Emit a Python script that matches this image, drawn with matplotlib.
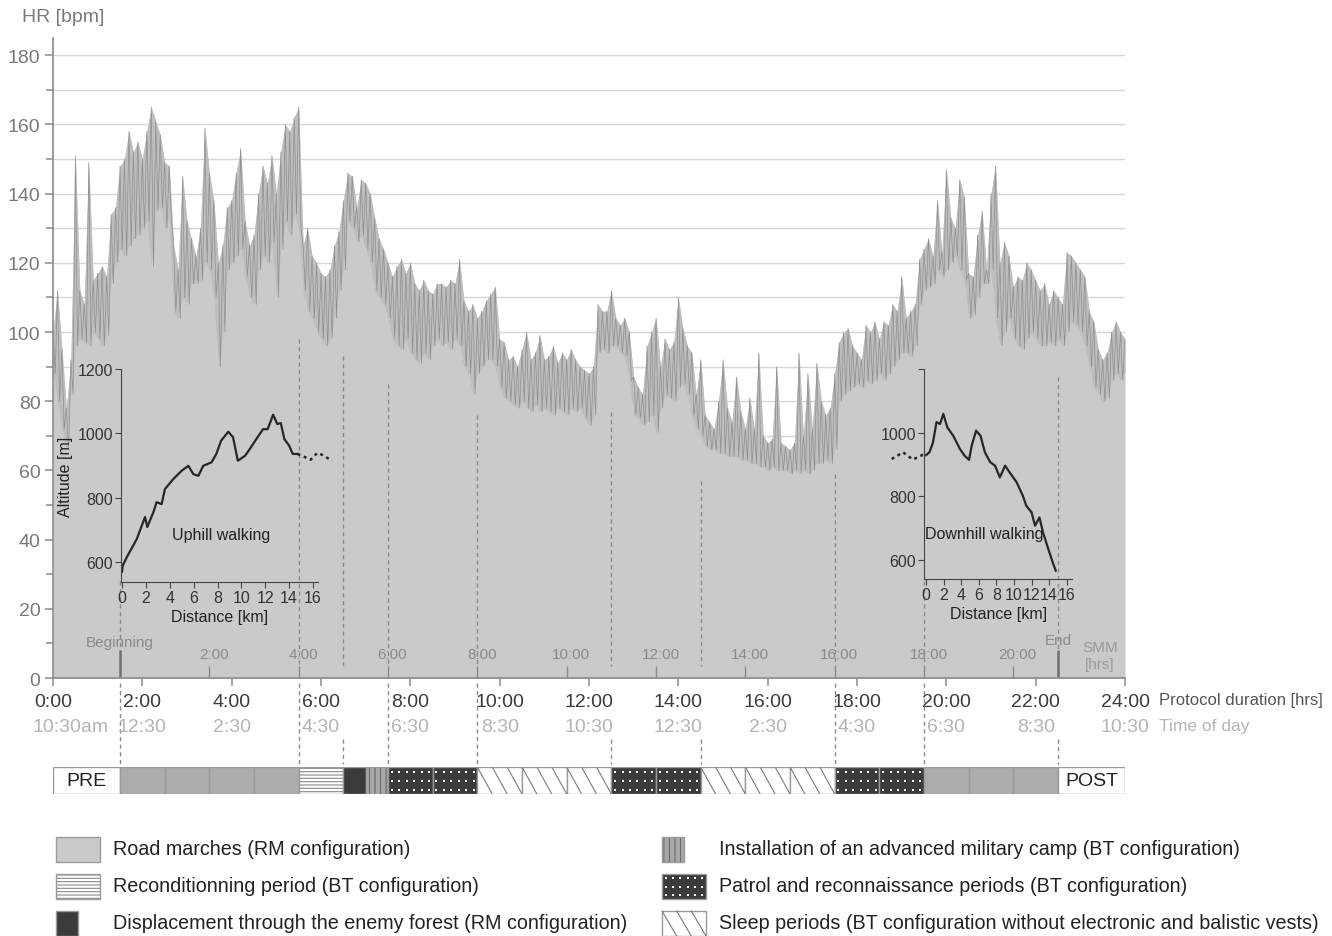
import numpy as np
import matplotlib
matplotlib.use('Agg')
import matplotlib.pyplot as plt
from matplotlib.patches import Rectangle
from matplotlib.transforms import blended_transform_factory

plt.rcParams['font.family'] = ['Liberation Sans', 'DejaVu Sans']
plt.rcParams['hatch.linewidth'] = 0.8

# heart rate, read every 0.1 h: top and bottom of the noisy trace
hr_time = np.round(np.arange(241) * 0.1, 1)
hr_hi = [100, 112, 95, 78, 92, 151, 112, 108, 149, 115,
         117, 119, 116, 134, 136, 148, 150, 158, 152, 155,
         150, 158, 165, 161, 157, 149, 148, 125, 118, 145,
         132, 127, 122, 130, 159, 146, 138, 120, 125, 136,
         138, 146, 153, 132, 125, 128, 140, 148, 143, 151,
         140, 152, 160, 158, 162, 165, 125, 130, 122, 120,
         117, 116, 118, 125, 129, 138, 146, 145, 136, 144,
         143, 140, 133, 127, 124, 120, 116, 119, 121, 117,
         120, 114, 112, 115, 112, 111, 114, 114, 113, 115,
         114, 121, 109, 106, 108, 104, 106, 109, 111, 113,
         98, 97, 92, 93, 90, 95, 100, 92, 94, 99,
         92, 93, 96, 91, 94, 92, 95, 92, 90, 89,
         88, 90, 108, 106, 106, 112, 104, 102, 104, 100,
         87, 84, 82, 96, 100, 104, 90, 98, 95, 97,
         110, 101, 96, 94, 82, 92, 76, 74, 72, 80,
         92, 78, 74, 87, 77, 72, 81, 72, 94, 70,
         68, 69, 90, 68, 67, 66, 68, 94, 70, 88,
         72, 91, 80, 76, 78, 88, 97, 100, 101, 96,
         94, 92, 102, 100, 103, 98, 103, 102, 108, 106,
         116, 104, 106, 108, 121, 124, 127, 122, 138, 123,
         147, 133, 130, 144, 139, 117, 116, 128, 135, 118,
         140, 148, 120, 126, 122, 113, 116, 115, 120, 118,
         115, 112, 114, 108, 112, 110, 108, 123, 122, 120,
         118, 116, 106, 103, 95, 92, 94, 100, 103, 100,
         98]
hr_lo = [88, 80, 72, 66, 82, 96, 98, 97, 96, 100,
         98, 96, 99, 114, 120, 124, 122, 125, 127, 128,
         130, 132, 119, 135, 136, 130, 133, 106, 104, 110,
         108, 114, 114, 115, 120, 118, 110, 90, 100, 118,
         120, 122, 124, 116, 110, 108, 118, 122, 120, 126,
         110, 124, 132, 128, 134, 130, 112, 106, 104, 100,
         98, 96, 98, 104, 112, 118, 132, 130, 126, 128,
         124, 120, 112, 110, 108, 104, 98, 96, 95, 98,
         94, 92, 91, 94, 92, 96, 98, 96, 97, 95,
         98, 96, 90, 88, 82, 88, 90, 92, 92, 90,
         84, 81, 80, 79, 78, 80, 78, 77, 79, 77,
         78, 77, 76, 78, 77, 76, 78, 77, 78, 75,
         73, 76, 94, 95, 94, 96, 96, 94, 93, 86,
         76, 75, 73, 74, 76, 71, 78, 82, 81, 80,
         84, 85, 82, 76, 72, 70, 67, 66, 66, 65,
         65, 64, 64, 64, 63, 63, 62, 62, 61, 61,
         60, 61, 60, 60, 60, 59, 60, 59, 60, 59,
         60, 62, 62, 63, 62, 66, 80, 82, 83, 84,
         85, 84, 86, 85, 86, 88, 86, 88, 90, 92,
         94, 94, 93, 96, 108, 112, 113, 114, 118, 116,
         118, 120, 122, 118, 115, 104, 105, 110, 114, 114,
         118, 104, 96, 100, 104, 98, 96, 95, 98, 100,
         98, 96, 96, 97, 96, 98, 96, 100, 103, 102,
         100, 96, 90, 84, 82, 80, 81, 86, 88, 86,
         88]

# altitude profiles of the two road marches
up_km = [0, 0.05, 0.4, 1.23, 1.93, 2.12, 2.62, 2.9, 3.32, 3.6, 4.3, 5.0, 5.56, 5.98, 6.4,
         6.8, 7.5, 7.9, 8.3, 8.9, 9.3, 9.7, 10.3, 10.7, 11.25, 11.81, 12.2, 12.66, 13.0,
         13.3, 13.6, 14.0, 14.3, 14.7]
up_alt = [570, 588, 615, 671, 740, 709, 754, 786, 780, 827, 858, 884, 899, 873, 868,
          899, 910, 936, 977, 1005, 988, 915, 930, 951, 982, 1013, 1013, 1058, 1029,
          1032, 982, 962, 936, 936]
up_tail_km = [14.7, 15.1, 15.8, 16.35, 16.77, 17.6]
up_tail_alt = [936, 930, 918, 939, 933, 915]

down_head_km = [-3.9, -2.6, -1.5, -0.36, 0]
down_head_alt = [918, 939, 916, 931, 930]
down_km = [0, 0.4, 0.8, 1.2, 1.6, 1.97, 2.42, 3.1, 3.85, 4.4, 4.9, 5.2, 5.7, 6.2, 6.7,
           7.3, 7.85, 8.4, 9.0, 9.5, 10.3, 11.0, 11.4, 12.0, 12.4, 12.9, 13.3, 13.9,
           14.4, 14.75]
down_alt = [930, 939, 970, 1034, 1028, 1060, 1018, 991, 950, 928, 915, 960, 1007, 991,
            939, 908, 897, 860, 897, 876, 845, 803, 771, 750, 708, 734, 687, 635, 593, 566]

# protocol phases (hours of protocol)
phase_edges = [0, 1.5, 2.5, 3.5, 4.5, 5.5, 6.5, 7.0, 7.5, 8.5, 9.5, 10.5, 11.5, 12.5,
               13.5, 14.5, 15.5, 16.5, 17.5, 18.5, 19.5, 20.5, 21.5, 22.5, 24]
phase_kinds = ['pre', 'rm', 'rm', 'rm', 'rm', 'recond', 'forest', 'camp',
               'patrol', 'patrol', 'sleep', 'sleep', 'sleep', 'patrol', 'patrol',
               'sleep', 'sleep', 'sleep', 'patrol', 'patrol', 'rm', 'rm', 'rm', 'post']

# phase boundaries drawn as dashed lines, with the HR level where they start
marker_h = [1.5, 5.5, 6.5, 7.5, 9.5, 12.5, 14.5, 17.5, 19.5, 22.5]
marker_top = [28, 98, 93, 85, 76, 77, 57, 59, 28, 87]
marker_full = [True, True, False, True, True, False, False, True, True, False]

hour_ticks = list(range(0, 25, 2))
hour_labels = [f'{h}:00' for h in hour_ticks]
day_labels = ['10:30am', '12:30', '2:30', '4:30', '6:30', '8:30', '10:30',
              '12:30', '2:30', '4:30', '6:30', '8:30', '10:30']
smm_hours = list(range(2, 21, 2))

legend_items = [
    ('rm_legend', 'Road marches (RM configuration)'),
    ('recond', 'Reconditionning period (BT configuration)'),
    ('forest', 'Displacement through the enemy forest (RM configuration)'),
    ('camp', 'Installation of an advanced military camp (BT configuration)'),
    ('patrol', 'Patrol and reconnaissance periods (BT configuration)'),
    ('sleep', 'Sleep periods (BT configuration without electronic and balistic vests)'),
]

styles = {
    'pre': ('white', None, None),
    'post': ('white', None, None),
    'rm': ('#abacae', None, None),
    'rm_legend': ('#c9cacc', None, None),
    'recond': ('white', '-----', '#8a8a8a'),
    'forest': ('#3b3b3b', None, None),
    'camp': ('#a8a8a8', '|||', '#6a6a6a'),
    'patrol': ('#3b3b3b', None, None),
    'sleep': ('white', None, None),
}

W, H = 1332, 937
fig = plt.figure(figsize=(W / 100, H / 100), dpi=100)


def swatch(axis, x, y, w, h, kind, border='#9a9a9a'):
    face, hatch, hcolor = styles[kind]
    axis.add_patch(Rectangle((x, y), w, h, facecolor=face, edgecolor='none', lw=0))
    if hatch:
        axis.add_patch(Rectangle((x, y), w, h, facecolor='none', edgecolor=hcolor,
                                 hatch=hatch, lw=0))
    if kind == 'patrol':
        # white dot grid, 6 across and 3 down per cell
        gx, gy = np.meshgrid(x + (np.arange(6) + 0.5) * w / 6, y + (np.arange(3) + 0.5) * h / 3)
        axis.scatter(gx.ravel(), gy.ravel(), s=2.2, marker='s', color='white', lw=0)
    if kind == 'sleep':
        # three steep diagonals per cell, top-left to bottom-right
        if bool(axis.yaxis_inverted()):
            top, bot = y, y + h
        else:
            top, bot = y + h, y
        for k in range(3):
            axis.plot([x + k * w / 3, x + (k + 1) * w / 3], [top, bot], color='#7a7a7a', lw=0.8)
    axis.add_patch(Rectangle((x, y), w, h, fill=False, edgecolor=border, lw=1))


# ---- main HR panel
ax = fig.add_axes([53 / W, 1 - 679 / H, 1072 / W, 640 / H])
ax.set_xlim(0, 24)
ax.set_ylim(0, 185)
for v in range(10, 181, 10):
    ax.axhline(v, color='#d6d6d6', lw=1, zorder=1)

t_z = np.column_stack([hr_time, hr_time + 0.05]).ravel()
v_z = np.column_stack([hr_hi, hr_lo]).ravel()
ax.fill_between(hr_time, 0, hr_hi, color='#c9cacc', lw=0, zorder=2)
ax.fill_between(hr_time, hr_lo, hr_hi, color='#bdbec0', lw=0, zorder=2)
ax.plot(t_z, v_z, color='#8e8f91', lw=0.5, zorder=3)

for s in ['top', 'right']:
    ax.spines[s].set_visible(False)
for s in ['left', 'bottom']:
    ax.spines[s].set_color('#8a8a8a')
    ax.spines[s].set_linewidth(1.2)
    ax.spines[s].set_zorder(6)

ax.set_yticks(range(0, 181, 20))
ax.set_yticks(range(10, 180, 20), minor=True)
ax.set_xticks(hour_ticks)
ax.set_xticklabels(hour_labels)
ax.tick_params(axis='both', which='major', direction='out', length=6, width=1.1,
               color='#8a8a8a', labelsize=14)
ax.tick_params(axis='y', which='minor', direction='out', length=5, width=1.1, color='#8a8a8a')
ax.tick_params(axis='y', labelcolor='#7a7a7a', pad=3)
ax.tick_params(axis='x', labelcolor='#3c3c3c', pad=5)

bt = blended_transform_factory(ax.transData, ax.transAxes)

# dashed phase boundaries, inside and below the panel
for h, top, full in zip(marker_h, marker_top, marker_full):
    bottom = 8 if h in (1.5, 22.5) else 3.5
    ax.plot([h, h], [top, bottom], color='#8a8a8a', lw=1, ls=(0, (3, 2.5)), zorder=4)
    y0 = -0.008 if full else -0.095
    ax.plot([h, h], [y0, -0.134], transform=bt, color='#8a8a8a', lw=1,
            ls=(0, (3, 2.5)), clip_on=False)

# SMM axis drawn inside the panel
ax.vlines([1.5 + s for s in smm_hours], 0, 3.5, color='#8a8a8a', lw=1, zorder=4)
ax.vlines([1.5, 22.5], 0, 8, color='#707070', lw=1.8, zorder=4)
for s in smm_hours:
    ax.text(1.5 + s + 0.1, 6.9, f'{s}:00', ha='center', va='center', fontsize=11,
            color='#8a8a8a', zorder=5)
ax.text(1.5, 10.5, 'Beginning', ha='center', va='center', fontsize=11, color='#8a8a8a', zorder=5)
ax.text(22.5, 11, 'End', ha='center', va='center', fontsize=11, color='#8a8a8a', zorder=5)
ax.text(23.44, 9, 'SMM', ha='center', va='center', fontsize=11, color='#9a9a9a', zorder=5)
ax.text(23.44, 4, '[hrs]', ha='center', va='center', fontsize=11, color='#9a9a9a', zorder=5)

# second row of x labels: time of day
for i, (h, lab) in enumerate(zip(hour_ticks, day_labels)):
    if i == 0:
        ax.text(-0.45, -0.075, lab, transform=bt, ha='left', va='center', fontsize=14,
                color='#b4b4b4')
    else:
        ax.text(h, -0.075, lab, transform=bt, ha='center', va='center', fontsize=14,
                color='#b4b4b4')
ax.text(24.76, -0.033, 'Protocol duration [hrs]', transform=bt, ha='left', va='center',
        fontsize=12, color='#555555')
ax.text(24.76, -0.075, 'Time of day', transform=bt, ha='left', va='center',
        fontsize=12.5, color='#b4b4b4')

# ---- altitude insets
ins1 = fig.add_axes([121.4 / W, 1 - 583 / H, 196.4 / W, 213 / H])
ins2 = fig.add_axes([924.2 / W, 1 - 580 / H, 147.8 / W, 209.6 / H])
for ins in (ins1, ins2):
    ins.patch.set_visible(False)
    for s in ['top', 'right']:
        ins.spines[s].set_visible(False)
    for s in ['left', 'bottom']:
        ins.spines[s].set_color('#444444')
    ins.set_xticks(range(0, 17, 2))
    ins.tick_params(direction='out', length=4, color='#444444', labelsize=11.5,
                    labelcolor='#333333', pad=2)
    ins.set_xlabel('Distance [km]', fontsize=11.5, color='#222222', labelpad=3)

ins1.set_xlim(-0.05, 16.4)
ins1.set_ylim(538, 1200)
ins1.set_yticks([600, 800, 1000, 1200])
ins1.set_ylabel('Altitude [m]', fontsize=11.5, color='#222222', labelpad=3)
ins1.plot(up_km, up_alt, color='#262626', lw=1.6)
ins1.plot(up_tail_km, up_tail_alt, color='#262626', lw=1.8, ls=(0, (1.2, 1.5)), clip_on=False)
ins1.text(8.3, 687, 'Uphill walking', ha='center', va='center', fontsize=11.5, color='#222222')

ins2.set_xlim(-0.2, 16.6)
ins2.set_ylim(540, 1200)
ins2.set_yticks([600, 800, 1000, 1200])
ins2.set_yticklabels(['600', '800', '1000', ''])
ins2.plot(down_km, down_alt, color='#262626', lw=1.6)
ins2.plot(down_head_km, down_head_alt, color='#262626', lw=1.8, ls=(0, (1.2, 1.5)),
          clip_on=False)
ins2.text(6.6, 682, 'Downhill walking', ha='center', va='center', fontsize=11.5,
          color='#222222')

# ---- phase bar
bar = fig.add_axes([53 / W, 1 - 795 / H, 1072 / W, 27 / H])
bar.set_xlim(0, 24)
bar.set_ylim(0, 1)
bar.axis('off')
for x0, x1, kind in zip(phase_edges[:-1], phase_edges[1:], phase_kinds):
    swatch(bar, x0, 0, x1 - x0, 1, kind)
bar.text(0.75, 0.5, 'PRE', ha='center', va='center', fontsize=14, color='#222222')
bar.text(23.25, 0.5, 'POST', ha='center', va='center', fontsize=14, color='#222222')

# ---- legend and top label, in figure pixels
lay = fig.add_axes([0, 0, 1, 1], zorder=-1)
lay.set_xlim(0, W)
lay.set_ylim(H, 0)
lay.axis('off')
lay.text(22, 18, 'HR [bpm]', ha='left', va='center', fontsize=14, color='#7a7a7a')
col_x = [56, 56, 56, 662, 662, 662]
row_y = [838, 875, 912, 838, 875, 912]
sw_w = [44, 44, 22, 22, 44, 44]
for (kind, label), x, y, w in zip(legend_items, col_x, row_y, sw_w):
    swatch(lay, x, y, w, 25, kind)
    lay.text(x + 57, y + 12, label, ha='left', va='center', fontsize=14.2, color='#222222')

fig.savefig('out.png', dpi=100)
